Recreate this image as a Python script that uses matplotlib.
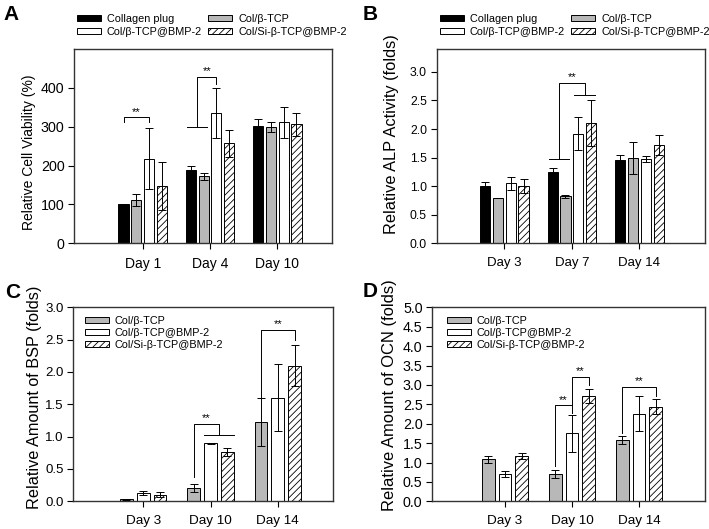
import matplotlib
matplotlib.use("Agg")
import matplotlib.pyplot as plt
from matplotlib.patches import Patch
from matplotlib.ticker import FormatStrFormatter

plt.rcParams["font.family"] = ["Liberation Sans", "DejaVu Sans"]
plt.rcParams["hatch.linewidth"] = 0.6

W, H = 709, 529

GROUPS_4 = ["Collagen plug", "Col/β-TCP", "Col/β-TCP@BMP-2", "Col/Si-β-TCP@BMP-2"]
GROUPS_3 = GROUPS_4[1:]

# A - relative cell viability (%)
days_a = ["Day 1", "Day 4", "Day 10"]
via_mean = [[100, 188, 302], [111, 172, 299], [218, 336, 311], [147, 257, 306]]
via_err = [[1, 11, 17], [15, 10, 12], [79, 64, 40], [61, 34, 30]]

# B - relative ALP activity (folds)
days_b = ["Day 3", "Day 7", "Day 14"]
alp_mean = [[1.00, 1.24, 1.46], [0.79, 0.82, 1.50], [1.05, 1.92, 1.47], [1.00, 2.11, 1.72]]
alp_err = [[0.07, 0.08, 0.08], [0.005, 0.02, 0.28], [0.11, 0.29, 0.05], [0.12, 0.40, 0.17]]

# C - relative amount of BSP (folds)
days_c = ["Day 3", "Day 10", "Day 14"]
bsp_mean = [[0.03, 0.20, 1.23], [0.134, 0.897, 1.60], [0.103, 0.758, 2.10]]
bsp_err = [[0.005, 0.06, 0.37], [0.03, 0.01, 0.52], [0.04, 0.06, 0.31]]

# D - relative amount of OCN (folds)
days_d = ["Day 3", "Day 10", "Day 14"]
ocn_mean = [[1.08, 0.70, 1.58], [0.70, 1.75, 2.26], [1.16, 2.71, 2.44]]
ocn_err = [[0.10, 0.11, 0.10], [0.07, 0.47, 0.46], [0.08, 0.18, 0.19]]

# significance brackets: (day, x_left, x_right, top, left_bottom, right_bottom, left_span, right_span)
# x_left / x_right are bar-slot offsets inside the group
sig_a = [(0, 0, 2, 324, 313, 313, 0, 0), (1, 0.5, 2, 428, 298, 411, 0.15, 0)]
sig_b = [(1, 0.5, 2.5, 2.80, 1.47, 2.60, 0.153, 0.153)]
sig_c = [(1, 0, 1.5, 1.20, 0.38, 1.03, 0, 0.22), (2, 0, 2, 2.65, 1.60, 2.49, 0, 0)]
sig_d = [(1, 0, 1, 2.47, 0.92, 2.27, 0, 0), (1, 1, 2, 3.20, 2.47, 2.99, 0, 0),
         (2, 0, 2, 2.94, 1.75, 2.71, 0, 0)]

STYLE = {
    "Collagen plug": dict(facecolor="black", hatch=None),
    "Col/β-TCP": dict(facecolor="#b8b8b8", hatch=None),
    "Col/β-TCP@BMP-2": dict(facecolor="white", hatch=None),
    "Col/Si-β-TCP@BMP-2": dict(facecolor="white", hatch="/////"),
}


def px_axes(fig, box):
    l, t, r, b = box
    return fig.add_axes([l / W, 1 - b / H, (r - l) / W, (b - t) / H])


def slot_x(n, day, slot):
    step = 0.19 if n == 4 else 0.25
    return day + (slot - (n - 1) / 2) * step


def draw_panel(ax, box, days, groups, means, errs, xlim, ylim, yticks, ylabel, sigs,
               ysize, xsize, lsize, label_px):
    n = len(groups)
    width = 0.15 if n == 4 else 0.19
    for i, g in enumerate(groups):
        xs = [slot_x(n, d, i) for d in range(len(days))]
        st = STYLE[g]
        ax.bar(xs, means[i], width, facecolor=st["facecolor"], hatch=st["hatch"],
               edgecolor="black", linewidth=0.7, zorder=2)
        ax.errorbar(xs, means[i], yerr=errs[i], fmt="none", ecolor="black",
                    elinewidth=0.7, capsize=2.6, capthick=0.7, zorder=3)

    for day, sl, sr, top, yl, yr, spl, spr in sigs:
        xl, xr = slot_x(n, day, sl), slot_x(n, day, sr)
        kw = dict(color="black", lw=0.7, zorder=4)
        ax.plot([xl, xl, xr, xr], [yl, top, top, yr], **kw)
        if spl:
            ax.plot([xl - spl, xl + spl], [yl, yl], **kw)
        if spr:
            ax.plot([xr - spr, xr + spr], [yr, yr], **kw)
        ax.text((xl + xr) / 2, top + (ylim[1] - ylim[0]) * 0.004, "**",
                ha="center", va="bottom", fontsize=8)

    ax.set_xlim(*xlim)
    ax.set_ylim(*ylim)
    ax.set_xticks(range(len(days)))
    ax.set_xticklabels(days, fontsize=xsize)
    ax.set_yticks(yticks)
    ax.tick_params(axis="y", labelsize=ysize, length=4, width=0.8, direction="out", pad=3)
    ax.tick_params(axis="x", length=4, width=0.8, direction="out", pad=6)
    for sp in ax.spines.values():
        sp.set_linewidth(1.0)
        sp.set_color("#333333")
    ax.set_ylabel(ylabel, fontsize=lsize)
    # place the y label by its right edge / centre in figure pixels
    l, t, r, b = box
    ax.yaxis.set_label_coords((label_px[0] - l) / (r - l), (b - label_px[1]) / (b - t))


def legend_handles(groups):
    return [Patch(facecolor=STYLE[g]["facecolor"], hatch=STYLE[g]["hatch"],
                  edgecolor="black", linewidth=0.7, label=g) for g in groups]


fig = plt.figure(figsize=(W / 100, H / 100), dpi=100)

box_a = (74.3, 49, 332.3, 243.3)
ax_a = px_axes(fig, box_a)
draw_panel(ax_a, box_a, days_a, GROUPS_4, via_mean, via_err, (-1.016, 2.817), (0, 500),
           [0, 100, 200, 300, 400], "Relative Cell Viability (%)", sig_a,
           10.3, 10, 10, (36, 152))

box_b = (436.7, 49, 705, 243.3)
ax_b = px_axes(fig, box_b)
draw_panel(ax_b, box_b, days_b, GROUPS_4, alp_mean, alp_err, (-1.0, 2.97), (0, 3.4),
           [0, 0.5, 1.0, 1.5, 2.0, 2.5, 3.0], "Relative ALP Activity (folds)", sig_b,
           8.8, 9.5, 11.8, (399, 134))

box_c = (73.3, 307.3, 333, 501.3)
ax_c = px_axes(fig, box_c)
draw_panel(ax_c, box_c, days_c, GROUPS_3, bsp_mean, bsp_err, (-1.04, 2.82), (0, 3.0),
           [0, 0.5, 1.0, 1.5, 2.0, 2.5, 3.0], "Relative Amount of BSP (folds)", sig_c,
           9.5, 9.7, 11.7, (42, 397))

box_d = (432.3, 307.3, 705, 501.3)
ax_d = px_axes(fig, box_d)
draw_panel(ax_d, box_d, days_d, GROUPS_3, ocn_mean, ocn_err, (-1.085, 2.985), (0, 5.0),
           [0, 0.5, 1.0, 1.5, 2.0, 2.5, 3.0, 3.5, 4.0, 4.5, 5.0],
           "Relative Amount of OCN (folds)", sig_d,
           10.3, 9.7, 11.9, (397, 395))
for ax in (ax_b, ax_c, ax_d):
    ax.yaxis.set_major_formatter(FormatStrFormatter("%.1f"))

leg_kw = dict(frameon=False, fontsize=7.8, handlelength=2.2, handleheight=0.5,
              handletextpad=0.55, borderpad=0, borderaxespad=0, loc="upper left")
# two-row legends above A and B (column order: left col rows 1-2, right col rows 1-2)
order = [GROUPS_4[0], GROUPS_4[2], GROUPS_4[1], GROUPS_4[3]]
for ax, x0 in ((ax_a, 77), (ax_b, 440)):
    ax.legend(handles=legend_handles(order), ncol=2, columnspacing=0.6,
              labelspacing=0.3, bbox_to_anchor=(x0 / W, 1 - 14 / H),
              bbox_transform=fig.transFigure, **leg_kw)
for ax, x0 in ((ax_c, 85), (ax_d, 446.7)):
    ax.legend(handles=legend_handles(GROUPS_3), labelspacing=0.2,
              bbox_to_anchor=(x0 / W, 1 - 315.5 / H),
              bbox_transform=fig.transFigure, **leg_kw)

for label, x, y in (("A", 3, 20), ("B", 363, 20), ("C", 5, 298), ("D", 363, 297)):
    fig.text(x / W, 1 - y / H, label, fontsize=15, fontweight="bold",
             ha="left", va="baseline")

fig.savefig("out.png", dpi=100)
